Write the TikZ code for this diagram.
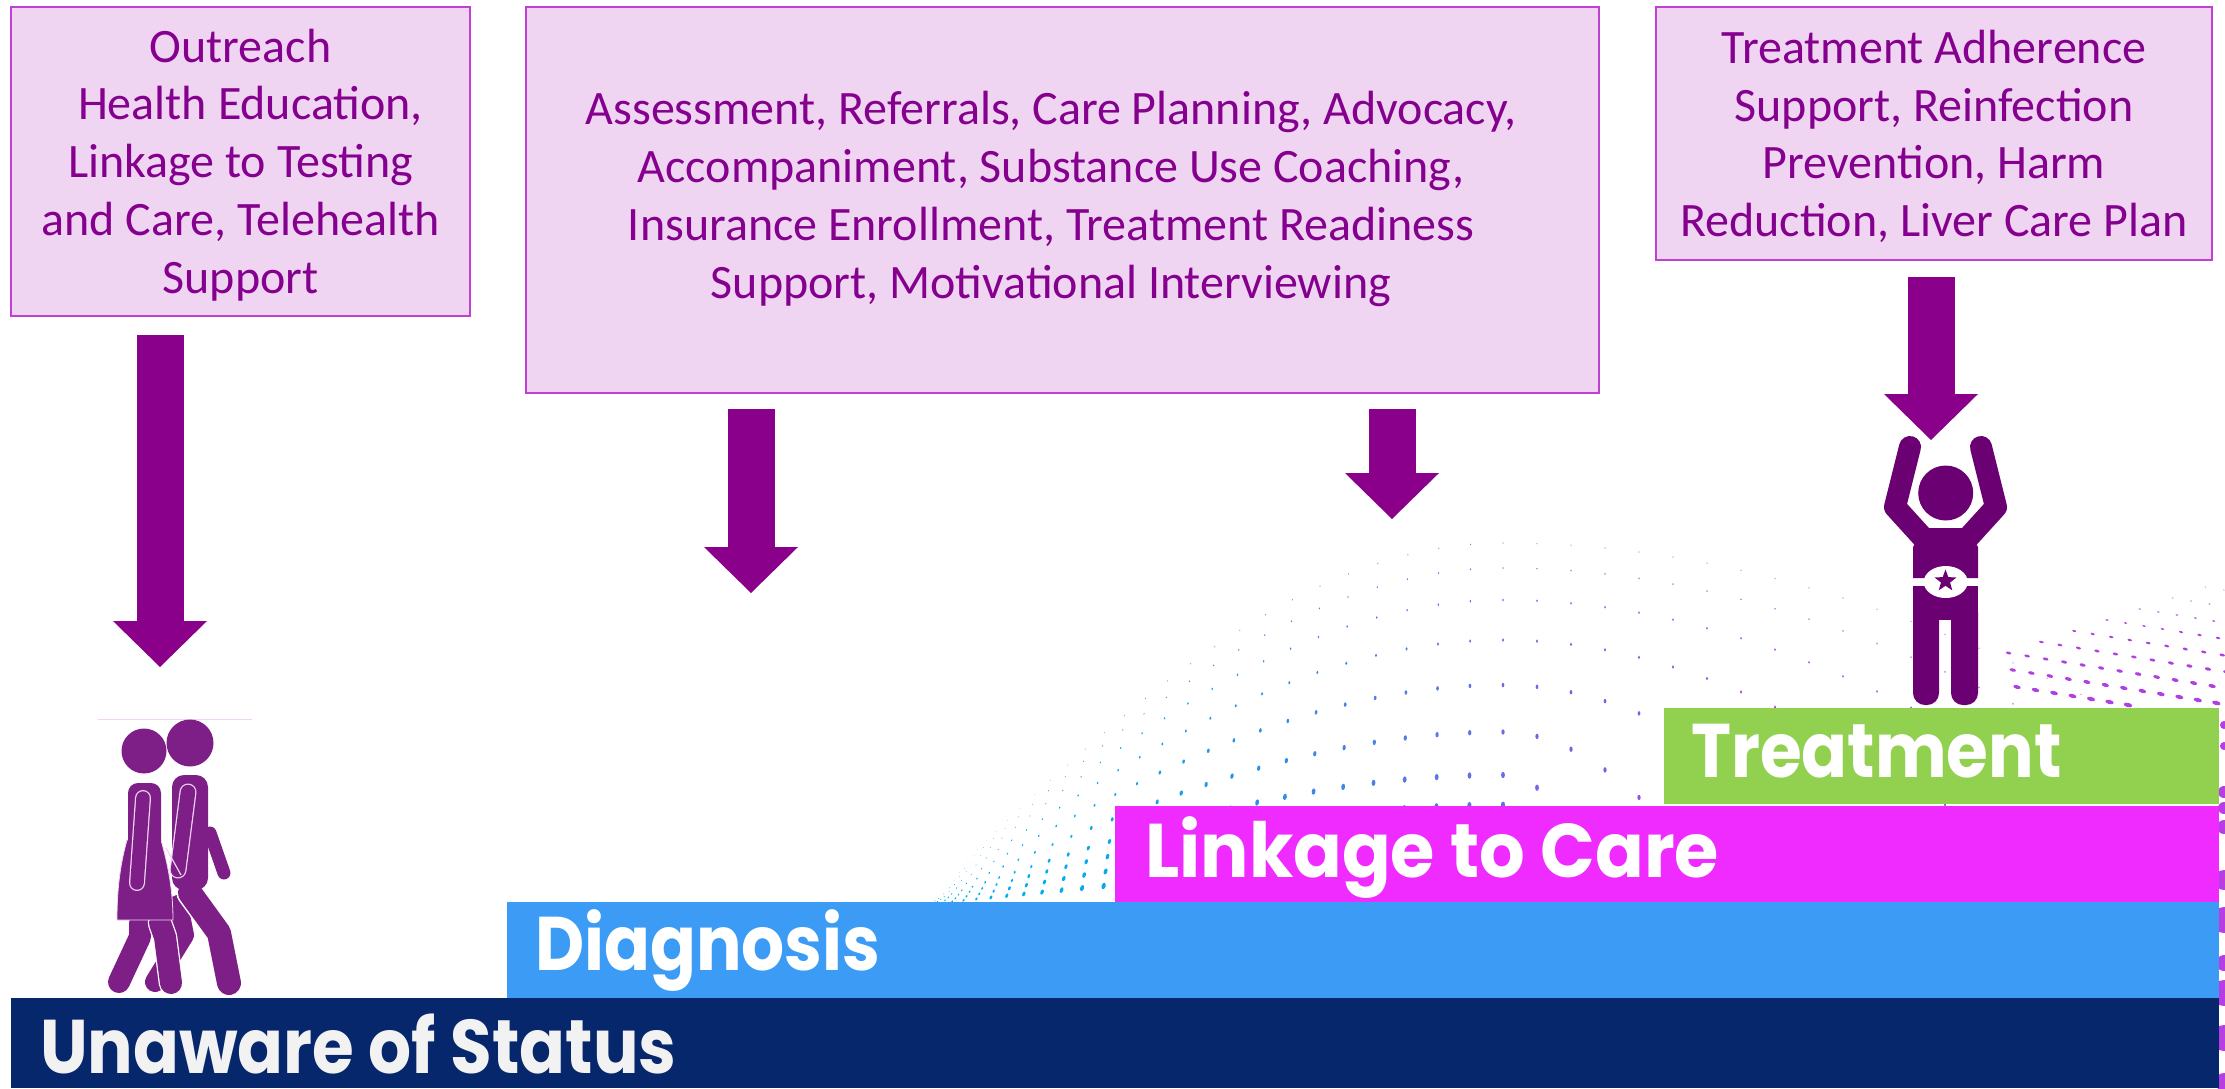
\documentclass[tikz,border=0pt]{standalone}
\usepackage{fontspec}
\usetikzlibrary{arrows.meta,positioning,shapes.geometric}
\setmainfont{Carlito}
\newfontfamily\stagefont[FakeStretch=0.89]{Poppins}
\newfontfamily\widestagefont[FakeStretch=0.945]{Poppins}
\definecolor{boxfill}{HTML}{EFD5F1}
\definecolor{boxline}{HTML}{BF40D2}
\definecolor{boxtext}{HTML}{85008F}
\definecolor{arrowcol}{HTML}{8B008B}
\definecolor{navybar}{HTML}{06276B}
\definecolor{bluebar}{HTML}{3C9BF5}
\definecolor{pinkbar}{HTML}{EF2BFF}
\definecolor{greenbar}{HTML}{92D050}
\definecolor{coupleCol}{HTML}{7E1F87}
\definecolor{heroCol}{HTML}{6B0073}
\definecolor{dotcyan}{HTML}{00AEEF}
\definecolor{dotpurple}{HTML}{B040E0}

\begin{document}
\begin{tikzpicture}[
		x=1pt, y=-1pt,
		box/.style={rectangle, draw=boxline, fill=boxfill, line width=2.5pt, outer sep=0pt, inner sep=0pt, align=center, text=boxtext, font=\fontsize{48}{57.7}\selectfont},
		stagebar/.style={rectangle, outer sep=0pt, inner sep=0pt, minimum height=96pt},
		stagetext/.style={anchor=base west, inner sep=0pt, text=white, font=\stagefont\bfseries\fontsize{76}{80}\selectfont},
		bigarrow/.style={draw=arrowcol, line width=47pt, -{Triangle[length=46pt, width=94pt, line width=0pt, fill=arrowcol]}},
		limb/.style={line width=#1, line cap=round, line join=round},
		seam/.style={draw=boxfill, line width=1.2pt}
	]
	\useasboundingbox (0,0) rectangle (2225,1088);

	% Dotted dome behind the bars
	\foreach \b in {362,337,305,265,220,173,130,100,70,40} {
		\foreach \j in {1,...,46} {
			\pgfmathsetmacro\v{min(\j/27,1)}
			\pgfmathsetmacro\dx{\j<=27 ? 920+583*pow(\v,1.6)+\b/362*(1-\v)*45 : 1503+34*(\j-27)}
			\pgfmathsetmacro\spread{max(3.8*\b-420,120)}
			\pgfmathsetmacro\ang{\j<=27 ? (\dx-920)/583*90 : 90-min(90,(\dx-1503)/\spread*90)}
			\pgfmathsetmacro\dy{905-\b*sin(\ang)}
			\pgfmathsetmacro\ry{(0.8+3.7*(1-\b/362))*min(1,0.15+1.4*\v)}
			\pgfmathtruncatemacro\mix{max(0,min(100,(\dx-1050)/7.5))}
			\pgfmathsetmacro\tilt{-35*(1-\v)}
			\fill[dotpurple!\mix!dotcyan, rotate around={\tilt:(\dx,\dy)}] (\dx,\dy) ellipse [x radius=0.6*\ry pt, y radius=\ry pt];
		}
	}
	\foreach \i in {-6,...,16} {
		\foreach \j in {0,...,10} {
			\pgfmathsetmacro\dx{2017+18.5*\i+14.3*\j}
			\pgfmathsetmacro\dy{687+3*\i-14*\j}
			\pgfmathsetmacro\show{(\dx>2005 && \dx<2230 && \dy<706 && \dy>650-(\dx-2007)*0.32) ? 1 : 0}
			\pgfmathsetmacro\rx{max(0.7,4.4-(706-\dy)*0.032)}
			\ifdim\show pt>0.5pt
				\fill[dotpurple, rotate around={-15:(\dx,\dy)}] (\dx,\dy) ellipse [x radius=\rx pt, y radius=0.5*\rx pt];
			\fi
		}
	}
	\foreach \py/\pr in {725/4,746/4,792/6,808/6,827/7,880/10,920/13,963/8,993/13,1038/13,1082/9} {
		\fill[dotpurple!90!pinkbar] (2224,\py) circle [radius=\pr pt];
	}

	% Bars
	\node (unaware) [stagebar, anchor=south west, fill=navybar, minimum width=2208pt, minimum height=90pt] at (11,1088) {};
	\node (diagnosis) [stagebar, above=0pt of unaware.north east, anchor=south east, fill=bluebar, minimum width=1712pt] {};
	\node (linkage) [stagebar, above=0pt of diagnosis.north east, anchor=south east, fill=pinkbar, minimum width=1104pt] {};
	\node (treatment) [stagebar, above=2pt of linkage.north east, anchor=south east, fill=greenbar, minimum width=555pt] {};

	\node (unawaretext) [stagetext, text=white!95!black] at ([xshift=29pt,yshift=15pt]unaware.south west) {Unaware of Status};
	\node (diagnosistext) [stagetext] at ([xshift=28pt,yshift=28pt]diagnosis.south west) {Diagnosis};
	\node (linkagetext) [stagetext, font=\widestagefont\bfseries\fontsize{76}{80}\selectfont] at ([xshift=30pt,yshift=25pt]linkage.south west) {Linkage to Care};
	\node (treatmenttext) [stagetext] at ([xshift=27pt,yshift=27pt]treatment.south west) {Treatment};

	% Service boxes
	\node (outreach) [box, anchor=north west, minimum width=459pt, minimum height=309pt] at (11,7) {\rule{0pt}{40pt}Outreach\\\hspace*{20pt}Health Education,\\Linkage to Testing\\and Care, Telehealth\\Support};
	\node (assessment) [box, right=56pt of outreach.north east, anchor=north west, minimum width=1073pt, minimum height=386pt] {\begin{tabular}{@{}c@{\hspace{23pt}}}Assessment, Referrals, Care Planning, Advocacy,\\Accompaniment, Substance Use Coaching,\\Insurance Enrollment, Treatment Readiness\\Support, Motivational Interviewing\end{tabular}};
	\node (adherence) [box, right=57pt of assessment.north east, anchor=north west, minimum width=556pt, minimum height=253pt] {\rule{0pt}{39pt}Treatment Adherence\\Support, Reinfection\\Prevention, Harm\\Reduction, Liver Care Plan};

	% Block arrows
	\coordinate (outreachtip) at (160,667);
	\coordinate (diagnosistip) at (751,593);
	\coordinate (linkagetip) at (1392,519);
	\coordinate (treatmenttip) at (1931,440);
	\draw [bigarrow] ([yshift=-19pt]outreach.south -| outreachtip) -- (outreachtip);
	\draw [bigarrow] ([yshift=-16pt]assessment.south -| diagnosistip) -- (diagnosistip);
	\draw [bigarrow] ([yshift=-16pt]assessment.south -| linkagetip) -- (linkagetip);
	\draw [bigarrow] ([yshift=-17pt]adherence.south -| treatmenttip) -- (treatmenttip);

	% Walking couple
	\draw[draw=boxfill, line width=1pt] (98,719) -- (252,719);
	\draw[coupleCol, limb=13pt] (210,833) -- (224,873);
	\draw[coupleCol, limb=20pt] (178,905) -- (184,935) -- (155,982);
	\draw[white, limb=27pt] (190,893) -- (219,933) -- (229,983);
	\draw[coupleCol, limb=24pt] (190,893) -- (219,933) -- (229,983);
	\fill[coupleCol] (190,743) circle [radius=23.5pt];
	\fill[coupleCol, rounded corners=12pt] (172,775) rectangle (208,890);
	\draw[boxfill, limb=17pt] (188,792) -- (178,870);
	\draw[coupleCol, limb=14.5pt] (188,792) -- (178,870);
	\draw[seam] (166,848) -- (181,875);
	\fill[coupleCol] (144,751) circle [radius=22.5pt];
	\draw[coupleCol, limb=22pt] (140,923) -- (140,937) -- (119,982);
	\draw[white, limb=24.5pt] (160,923) -- (165,937) -- (171,983);
	\draw[coupleCol, limb=22pt] (160,923) -- (165,937) -- (171,983);
	\fill[coupleCol, rounded corners=10pt] (128,783) rectangle (161,860);
	\filldraw[fill=coupleCol, draw=boxfill, line width=0.8pt] (127,840) .. controls (120,865) and (117,890) .. (117,920) -- (173,920) .. controls (173,890) and (168,865) .. (161,840) -- cycle;
	\fill[coupleCol] (128,830) rectangle (161,846);
	\draw[boxfill, limb=16pt] (143,798) -- (137,883);
	\draw[coupleCol, limb=13.5pt] (143,798) -- (137,883);

	% Figure on the last bar
	\draw[heroCol, limb=22pt] (1910,447) -- (1895,507) -- (1925,540);
	\draw[heroCol, limb=22pt] (1981,447) -- (1996,507) -- (1966,540);
	\fill[heroCol] (1945.7,493) circle [radius=27.5pt];
	\fill[heroCol] (1925,528) -- (1966,528) -- (1978,547) -- (1978,578) -- (1913,578) -- (1913,547) -- cycle;
	\fill[heroCol] (1913,586) rectangle (1978,620);
	\fill[heroCol, rounded corners=12pt] (1913,600) rectangle (1939,705);
	\fill[heroCol, rounded corners=12pt] (1951,600) rectangle (1978,705);
	\fill[white] (1945.7,582) ellipse [x radius=22pt, y radius=16pt];
	\node (herostar) [star, star points=5, star point ratio=2.4, fill=heroCol, inner sep=0pt, minimum size=23pt] at (1945.5,581) {};
\end{tikzpicture}
\end{document}
